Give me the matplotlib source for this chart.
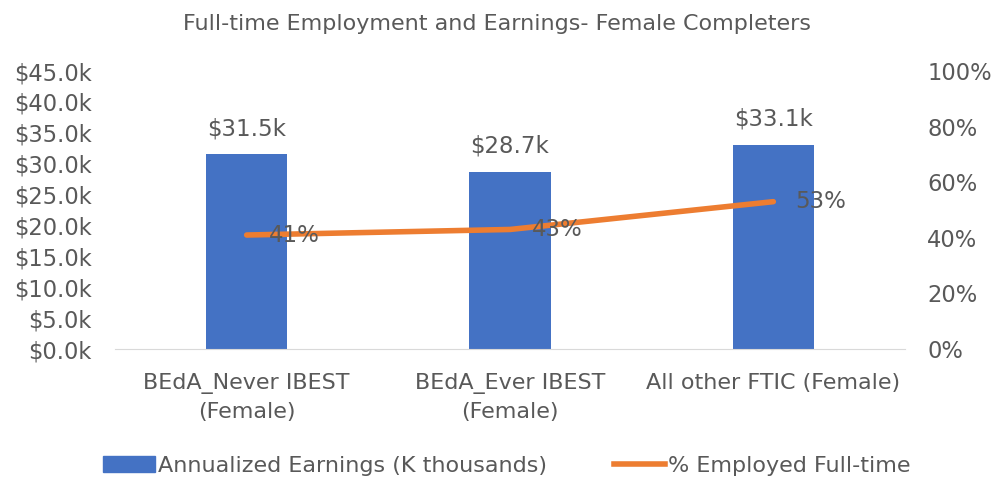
import matplotlib
matplotlib.use("Agg")
import matplotlib.pyplot as plt
from matplotlib.lines import Line2D
from matplotlib.patches import Patch

categories = ["BEdA_Never IBEST\n(Female)", "BEdA_Ever IBEST\n(Female)", "All other FTIC (Female)"]
earnings = [31.5, 28.7, 33.1]
employed = [41, 43, 53]
title = "Full-time Employment and Earnings- Female Completers"

plt.rcParams['font.family'] = ['DejaVu Sans']
txt = '#595959'
blue = '#4472C4'
orange = '#ED7D31'

fig = plt.figure(figsize=(9.94, 4.79), dpi=100)
ax = fig.add_axes([115/994, 1-349/479, 790/994, 278/479])
x = list(range(len(categories)))
ax.bar(x, earnings, width=0.31, color=blue, zorder=2)
ax.set_xlim(-0.5, 2.5)
ax.set_ylim(0, 45)
ax.set_yticks([i*5 for i in range(10)])
ax.set_yticklabels([f"${v:.1f}k" for v in ax.get_yticks()], fontsize=16.3, color=txt)
ax.set_xticks(x)
ax.set_xticklabels(categories, fontsize=16, color=txt, linespacing=1.5)
ax.tick_params(axis='y', length=0, pad=17)
ax.tick_params(axis='x', length=0, pad=17)
for s in ['top', 'right', 'left']:
    ax.spines[s].set_visible(False)
ax.spines['bottom'].set_color('#D9D9D9')
for xi, v in zip(x, earnings):
    ax.annotate(f"${v}k", (xi, v), xytext=(0, 10), textcoords='offset points',
                ha='center', va='bottom', fontsize=16.5, color=txt)

ax2 = ax.twinx()
ax2.plot(x, employed, color=orange, lw=4, solid_capstyle='round', zorder=3)
ax2.set_ylim(0, 100)
ax2.set_yticks(range(0, 101, 20))
ax2.set_yticklabels([f"{v}%" for v in range(0, 101, 20)], fontsize=16.3, color=txt)
ax2.tick_params(length=0, pad=16)
for s in ['top', 'right', 'left', 'bottom']:
    ax2.spines[s].set_visible(False)
for xi, v in zip(x, employed):
    ax2.annotate(f"{v}%", (xi, v), xytext=(16, 0), textcoords='offset points',
                 ha='left', va='center', fontsize=16.5, color=txt)

fig.text(0.5, 1-24/479, title, ha='center', va='center', fontsize=16, color=txt)

handles = [Patch(color=blue), Line2D([0], [0], color=orange, lw=4)]
labels = ["Annualized Earnings (K thousands)", "% Employed Full-time"]
fig.legend(handles, labels, loc='center', bbox_to_anchor=(0.51, 1-466/479), ncol=2,
           frameon=False, fontsize=16, labelcolor=txt, handlelength=2.3,
           handletextpad=0.15, columnspacing=3.0)

fig.savefig("out.png", dpi=100)
